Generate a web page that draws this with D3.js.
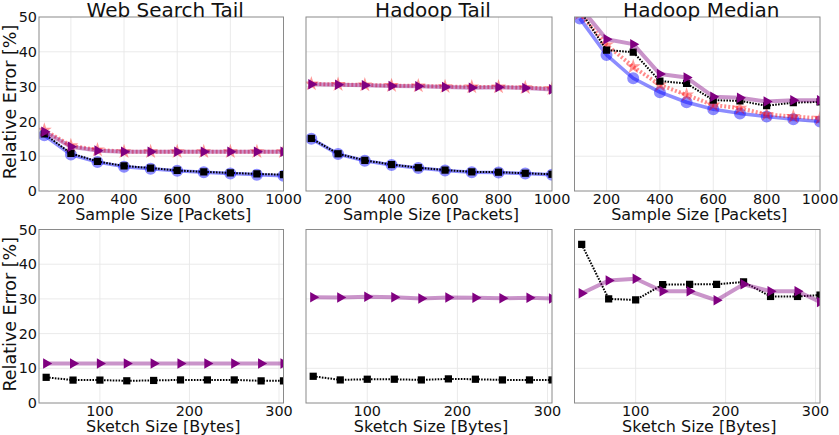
<!DOCTYPE html>
<html><head><meta charset="utf-8">
<script src="https://cdn.jsdelivr.net/npm/d3@7"></script>
<style>
body{margin:0;background:#fff}
svg{display:block}
text{font-family:"DejaVu Sans",sans-serif;fill:#111}
</style>
</head><body>
<svg id="c" width="839" height="435"></svg>
<script>
// ---------------- data ----------------
const titles = ["Web Search Tail", "Hadoop Tail", "Hadoop Median"];
const sampleSizes = [100, 200, 300, 400, 500, 600, 700, 800, 900, 1000];
const sketchSizes = [40, 70, 100, 130, 160, 190, 220, 250, 280, 305];
const sampleTicks = [200, 400, 600, 800, 1000];
const sketchTicks = [100, 200, 300];
const errorTicks = [0, 10, 20, 30, 40, 50];

// top row (sample size)
const wsCircle   = [16.0, 10.5, 8.3, 7.0, 6.4, 5.8, 5.4, 5.0, 4.7, 4.4];
const wsStar     = [17.5, 13.0, 11.8, 11.3, 11.3, 11.3, 11.3, 11.3, 11.3, 11.3];
const wsSquare   = [16.4, 10.8, 8.5, 7.2, 6.6, 5.9, 5.5, 5.2, 4.9, 4.7];
const wsTriangle = [17.0, 12.7, 11.6, 11.3, 11.3, 11.3, 11.3, 11.3, 11.3, 11.3];

const htCircle   = [15.0, 10.6, 8.7, 7.5, 6.6, 5.9, 5.4, 5.3, 5.0, 4.7];
const htStar     = [30.8, 30.6, 30.5, 30.3, 30.2, 30.0, 29.9, 29.9, 29.7, 29.4];
const htSquare   = [15.1, 10.7, 8.8, 7.6, 6.7, 6.0, 5.5, 5.4, 5.1, 4.8];
const htTriangle = [30.7, 30.5, 30.4, 30.2, 30.1, 29.9, 29.7, 29.8, 29.6, 29.2];

const hmCircle   = [49.6, 39.1, 32.4, 28.4, 25.5, 23.5, 22.3, 21.4, 20.6, 20.0];
const hmStar     = [51.0, 42.0, 35.7, 30.5, 27.6, 24.7, 23.8, 22.0, 21.4, 20.9];
const hmSquare   = [52.0, 40.5, 39.9, 31.6, 30.9, 26.1, 25.9, 24.5, 25.4, 25.6];
const hmTriangle = [53.0, 43.6, 42.2, 33.6, 32.6, 27.1, 26.8, 25.7, 26.1, 26.1];

// bottom row (sketch size)
const wsSketchSquare   = [7.4, 6.6, 6.6, 6.4, 6.5, 6.65, 6.65, 6.65, 6.4, 6.4];
const wsSketchTriangle = [11.4, 11.4, 11.4, 11.4, 11.4, 11.4, 11.4, 11.4, 11.4, 11.4];
const htSketchSquare   = [7.7, 6.65, 6.85, 6.85, 6.65, 6.95, 6.85, 6.65, 6.65, 6.65];
const htSketchTriangle = [30.5, 30.4, 30.6, 30.5, 30.1, 30.4, 30.3, 30.2, 30.3, 30.1];
const hmSketchSquare   = [45.7, 30.0, 29.7, 34.1, 34.2, 34.2, 34.9, 30.7, 30.7, 31.1];
const hmSketchTriangle = [31.6, 35.3, 35.8, 32.2, 32.2, 29.6, 34.2, 32.2, 32.2, 29.1];

// ---------------- layout & style ----------------
const cols = [{l:39, r:283.5}, {l:306, r:552}, {l:574.5, r:820}];
const rows = [{t:17, b:191}, {t:229.5, b:403}];
const rowCfg = [
  {xs: sampleSizes, domain: [80, 1000], ticks: sampleTicks, label: "Sample Size [Packets]"},
  {xs: sketchSizes, domain: [32, 305], ticks: sketchTicks, label: "Sketch Size [Bytes]"}
];
const panelSeries = [
  [ {circle: wsCircle, star: wsStar, square: wsSquare, triangle: wsTriangle},
    {circle: htCircle, star: htStar, square: htSquare, triangle: htTriangle},
    {circle: hmCircle, star: hmStar, square: hmSquare, triangle: hmTriangle} ],
  [ {square: wsSketchSquare, triangle: wsSketchTriangle},
    {square: htSketchSquare, triangle: htSketchTriangle},
    {square: hmSketchSquare, triangle: hmSketchTriangle} ]
];
const drawOrder = ["circle", "star", "square", "triangle"];
const styles = {
  circle:   {line:"#0000ff", lineOp:0.45, lw:3.5, dash:null, sym:d3.symbolCircle, size:113, fill:"#0000ff", fillOp:0.45, rot:0},
  star:     {line:"#ff0000", lineOp:0.45, lw:4, dash:"2,2", sym:d3.symbolStar, size:70, fill:"#ff0000", fillOp:0.4, rot:0},
  square:   {line:"#000000", lineOp:1, lw:2, dash:"1.6,1.3", sym:d3.symbolSquare, size:52, fill:"#000000", fillOp:1, rot:0},
  triangle: {line:"#800080", lineOp:0.42, lw:4, dash:null, sym:d3.symbolTriangle, size:48, fill:"#800080", fillOp:1, rot:90}
};

const svg = d3.select("#c");
const y0 = d3.scaleLinear().domain([0, 50]);

rows.forEach((row, ri) => {
  const cfg = rowCfg[ri];
  cols.forEach((col, ci) => {
    const x = d3.scaleLinear().domain(cfg.domain).range([col.l, col.r]);
    const y = y0.copy().range([row.b, row.t]);
    const g = svg.append("g");
    const clipId = `clip-${ri}-${ci}`;
    svg.append("clipPath").attr("id", clipId).append("rect")
      .attr("x", col.l).attr("y", row.t).attr("width", col.r - col.l).attr("height", row.b - row.t);

    // grid
    g.append("g").selectAll("line").data(errorTicks.filter(v => v > 0 && v < 50)).join("line")
      .attr("x1", col.l).attr("x2", col.r).attr("y1", d => y(d)).attr("y2", d => y(d))
      .attr("stroke", "#e8e8e8").attr("stroke-width", 0.9);
    g.append("g").selectAll("line").data(cfg.ticks.filter(v => x(v) < col.r - 1)).join("line")
      .attr("x1", d => x(d)).attr("x2", d => x(d)).attr("y1", row.t).attr("y2", row.b)
      .attr("stroke", "#e8e8e8").attr("stroke-width", 0.9);

    // series
    const data = panelSeries[ri][ci];
    const plot = g.append("g").attr("clip-path", `url(#${clipId})`);
    drawOrder.forEach(key => {
      const vals = data[key];
      if (!vals) return;
      const st = styles[key];
      const pts = cfg.xs.map((xv, i) => [xv, vals[i]]);
      const line = d3.line().x(d => x(d[0])).y(d => y(d[1]));
      plot.append("path").attr("d", line(pts)).attr("fill", "none")
        .attr("stroke", st.line).attr("stroke-opacity", st.lineOp)
        .attr("stroke-width", st.lw).attr("stroke-dasharray", st.dash)
        .attr("stroke-linejoin", "round");
      const sym = d3.symbol().type(st.sym).size(st.size);
      plot.append("g").selectAll("path").data(pts).join("path")
        .attr("d", sym)
        .attr("transform", d => `translate(${x(d[0])},${y(d[1])}) rotate(${st.rot})`)
        .attr("fill", st.fill).attr("fill-opacity", st.fillOp);
    });

    // frame
    g.append("rect").attr("x", col.l).attr("y", row.t)
      .attr("width", col.r - col.l).attr("height", row.b - row.t)
      .attr("fill", "none").attr("stroke", "#8a8a8a").attr("stroke-width", 1);

    // x tick labels
    g.append("g").selectAll("text").data(cfg.ticks).join("text")
      .attr("x", d => x(d)).attr("y", row.b + 12.5)
      .attr("text-anchor", "middle").attr("font-size", 14.4).text(d => d);
    // x label
    g.append("text").attr("x", (col.l + col.r) / 2 + 2).attr("y", row.b + 28.5)
      .attr("text-anchor", "middle").attr("font-size", 16).text(cfg.label);

    if (ci === 0) {
      g.append("g").selectAll("text").data(errorTicks).join("text")
        .attr("x", col.l - 2).attr("y", d => y(d))
        .attr("dy", "0.36em")
        .attr("text-anchor", "end").attr("font-size", 14.4).text(d => d);
      g.append("text")
        .attr("transform", `translate(16,${(row.t + row.b) / 2 - 2}) rotate(-90)`)
        .attr("text-anchor", "middle").attr("font-size", 17.5).text("Relative Error [%]");
    }
    if (ri === 0) {
      g.append("text").attr("x", (col.l + col.r) / 2 + 4).attr("y", row.t - 0.5)
        .attr("text-anchor", "middle").attr("font-size", 20).text(titles[ci]);
    }
  });
});
</script>
</body></html>
